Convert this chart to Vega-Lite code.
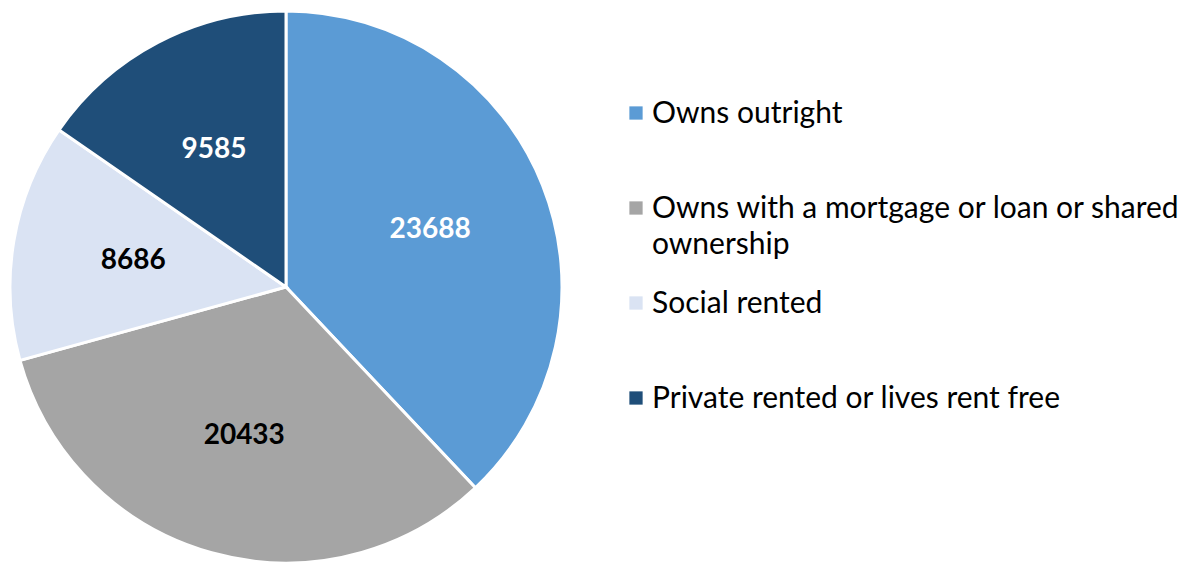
{
  "$schema": "https://vega.github.io/schema/vega-lite/v6.json",
  "autosize": "none",
  "width": 572,
  "height": 574,
  "padding": {"left": 0, "top": 0, "right": 614, "bottom": 0},
  "background": "white",
  "config": {
    "style": {"guide-label": {"dy": 10, "lineHeight": 36}}
  },
  "data": {
    "values": [
      {"tenure": "Owns outright", "households": 23688, "rank": 1},
      {"tenure": "Owns with a mortgage or loan or shared ownership", "households": 20433, "rank": 2},
      {"tenure": "Social rented", "households": 8686, "rank": 3},
      {"tenure": "Private rented or lives rent free", "households": 9585, "rank": 4}
    ]
  },
  "encoding": {
    "theta": {"field": "households", "type": "quantitative", "stack": true},
    "order": {"field": "rank", "type": "quantitative", "sort": "ascending"},
    "color": {
      "field": "tenure",
      "type": "nominal",
      "scale": {
        "domain": ["Owns outright", "Owns with a mortgage or loan or shared ownership", "Social rented", "Private rented or lives rent free"],
        "range": ["#5B9BD5", "#A5A5A5", "#DAE3F3", "#1F4E79"]
      },
      "legend": {
        "title": null,
        "orient": "none",
        "legendX": 621,
        "legendY": 98,
        "padding": 0,
        "columns": 1,
        "gridAlign": "all",
        "rowPadding": 28,
        "symbolType": "square",
        "symbolSize": 176,
        "symbolStrokeWidth": 0,
        "labelFont": "Lato",
        "labelFontSize": 30,
        "labelColor": "#000000",
        "labelLimit": 700,
        "labelOffset": 1,
        "labelBaseline": "alphabetic",
        "labelExpr": "datum.label == 'Owns with a mortgage or loan or shared ownership' ? ['Owns with a mortgage or loan or shared', 'ownership'] : datum.label"
      }
    }
  },
  "layer": [
    {
      "mark": {"type": "arc", "outerRadius": 276, "stroke": "white", "strokeWidth": 3}
    },
    {
      "mark": {"type": "text", "radius": 155, "font": "Lato", "fontSize": 28, "fontWeight": "bold"},
      "encoding": {
        "text": {"field": "households", "type": "quantitative", "format": "d"},
        "color": {
          "condition": {"test": "datum.tenure == 'Owns outright' || datum.tenure == 'Private rented or lives rent free'", "value": "white"},
          "value": "black"
        }
      }
    }
  ]
}
